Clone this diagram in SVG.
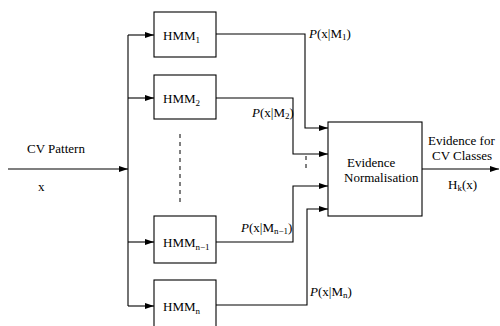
<svg xmlns="http://www.w3.org/2000/svg" width="500" height="326" viewBox="0 0 500 326">
<defs>
<marker id="ah" markerWidth="9" markerHeight="6" refX="9" refY="3" orient="auto" markerUnits="userSpaceOnUse">
<path d="M0,0 L9,3 L0,6 z" fill="#000"/>
</marker>
<style>
.b{fill:#fff;stroke:#000;stroke-width:1.1}
.l{fill:none;stroke:#000;stroke-width:1.1}
.a{fill:none;stroke:#000;stroke-width:1.1;marker-end:url(#ah)}
.d{fill:none;stroke:#000;stroke-width:1;stroke-dasharray:4,4}
.t{font-family:'Liberation Serif',serif;font-size:13px;fill:#000}
.s{font-size:9px}
.i{font-style:italic}
</style>
</defs>
<rect width="500" height="326" fill="#fff"/>
<g id="connectors">
<path class="a" d="M8,169 H128"/>
<path class="l" d="M128,35 V306"/>
<path class="a" d="M128,35 H154"/>
<path class="a" d="M128,98 H154"/>
<path class="a" d="M128,242 H154"/>
<path class="a" d="M128,306 H154"/>
<path class="d" d="M180,134 V202"/>
<path class="a" d="M216,34 H305 V128 H328"/>
<path class="a" d="M216,98 H293 V154 H328"/>
<path class="d" d="M306,156 V170"/>
<path class="a" d="M216,242 H293 V186 H328"/>
<path class="a" d="M216,305 H307 V209 H328"/>
<path class="a" d="M422,169 H499"/>
</g>
<g class="t">
<g id="input">
<text x="27" y="153">CV Pattern</text>
<text x="38" y="191">x</text>
</g>
<g id="hmm1">
<rect class="b" x="154" y="12" width="62" height="45"/>
<text x="163" y="40">HMM<tspan class="s" dy="3">1</tspan></text>
</g>
<g id="hmm2">
<rect class="b" x="154" y="75" width="62" height="44"/>
<text x="163" y="103">HMM<tspan class="s" dy="3">2</tspan></text>
</g>
<g id="hmmn1">
<rect class="b" x="154" y="216" width="62" height="47"/>
<text x="163" y="247">HMM<tspan class="s" dy="3">n−1</tspan></text>
</g>
<g id="hmmn">
<rect class="b" x="154" y="280" width="62" height="50"/>
<text x="163" y="311">HMM<tspan class="s" dy="3">n</tspan></text>
</g>
<g id="labels">
<text x="309" y="38"><tspan class="i">P</tspan>(x|M<tspan class="s" dy="2">1</tspan><tspan dy="-2">)</tspan></text>
<text x="252" y="117"><tspan class="i">P</tspan>(x|M<tspan class="s" dy="2">2</tspan><tspan dy="-2">)</tspan></text>
<text x="241" y="232"><tspan class="i">P</tspan>(x|M<tspan class="s" dy="2">n−1</tspan><tspan dy="-2">)</tspan></text>
<text x="310" y="296"><tspan class="i">P</tspan>(x|M<tspan class="s" dy="2">n</tspan><tspan dy="-2">)</tspan></text>
</g>
<g id="norm">
<rect class="b" x="328" y="122" width="94" height="94"/>
<text x="347" y="167">Evidence</text>
<text x="344" y="182">Normalisation</text>
</g>
<g id="output">
<text x="428" y="145">Evidence for</text>
<text x="432" y="160">CV Classes</text>
<text x="448" y="189">H<tspan class="s" dy="2">k</tspan><tspan dy="-2">(x)</tspan></text>
</g>
</g>
</svg>
